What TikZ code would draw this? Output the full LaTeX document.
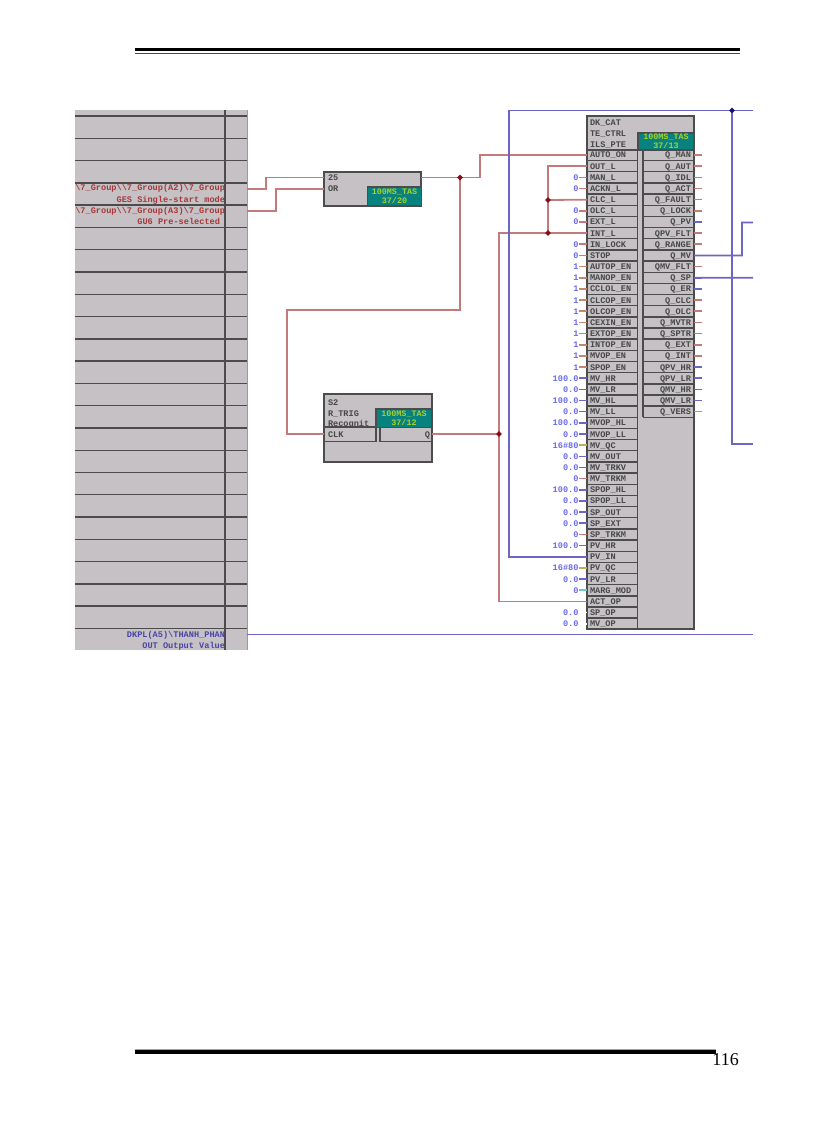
\documentclass[tikz,border=0pt]{standalone}
\usepackage{fontspec}
\usetikzlibrary{shapes.geometric}
\setmainfont{Liberation Serif}
\newfontfamily\fbdfont{Liberation Mono}
\definecolor{fbgray}{HTML}{C5C1C5}
\definecolor{fbdark}{HTML}{4C4C4C}
\definecolor{fbteal}{HTML}{07827F}
\definecolor{fbyel}{HTML}{A8D030}
\definecolor{wred}{HTML}{C47A7A}
\definecolor{wblue}{HTML}{6E66C4}
\definecolor{wgrey}{HTML}{9A9AA0}
\definecolor{wolive}{HTML}{B8B060}
\definecolor{wcyan}{HTML}{70C8C0}
\definecolor{wbrown}{HTML}{C08870}
\definecolor{txtgray}{HTML}{484848}
\definecolor{txtred}{HTML}{A83838}
\definecolor{txtblue}{HTML}{4A44A8}
\definecolor{valblue}{HTML}{6A6AF0}
\definecolor{jred}{HTML}{8A0A14}
\definecolor{jblue}{HTML}{16107A}
\tikzset{
  fbpanel/.style={fill=fbgray,draw=fbdark,line width=1.3pt,anchor=north west,inner sep=0pt,outer sep=0pt},
  tealbox/.style={fill=fbteal,draw=fbdark,line width=1.3pt,anchor=north west,inner sep=0pt,outer sep=0pt,text=fbyel,
    font=\fbdfont\bfseries\fontsize{8.4}{9.6}\selectfont,align=center},
  rowline/.style={draw=fbdark,line width=1.4pt},
  cellline/.style={draw=fbdark,line width=1.4pt},
  lbl/.style={inner sep=0pt,outer sep=0pt,text=txtgray,text height=6pt,text depth=0pt,font=\fbdfont\bfseries\fontsize{8.6}{9}\selectfont},
  lbll/.style={lbl,anchor=west},
  lblr/.style={lbl,anchor=east},
  vall/.style={lbl,anchor=east,text=valblue},
  tblred/.style={lbl,anchor=east,text=txtred},
  tblblue/.style={lbl,anchor=east,text=txtblue},
  redwire/.style={draw=wred,line width=1.8pt},
  bluewire/.style={draw=wblue,line width=1.8pt},
  stub/.style={line width=1.6pt},
  junc/.style={diamond,inner sep=0pt,minimum size=6pt,fill=jred},
  juncb/.style={diamond,inner sep=0pt,minimum size=6pt,fill=jblue},
}
\begin{document}
\begin{tikzpicture}[x=1pt,y=-1pt]
\useasboundingbox[fill=white] (0,0) rectangle (816,1123);

% page rules
\fill[black] (135,48) rectangle (740,51.5);
\draw[black!70,line width=0.8pt] (135,53) -- (740,53);
\draw[black!35,line width=0.8pt] (135,1049.3) -- (716,1049.3);
\fill[black] (135,1050.3) rectangle (716,1054);
\node[inner sep=0pt,anchor=base east,font=\fontsize{18}{18}\selectfont] (pageno) at (739,1065) {116};

% left table
\node[fbpanel,draw=none,minimum width=172pt,minimum height=540pt] (tbl) at (75,110) {};
\draw[draw=wgrey,line width=1pt] (247,110) -- (247,650);
\draw[rowline] (225,110) -- (225,650);
\foreach \k in {0,...,23} {
  \draw[rowline] (75,116+22.28*\k) -- (247,116+22.28*\k);
}
\node[tblred] (t1) at (225,188) {\textbackslash 7\_Group\textbackslash\textbackslash 7\_Group(A2)\textbackslash 7\_Group};
\node[tblred] (t2) at (225,199.5) {GES Single-start mode};
\node[tblred] (t3) at (225,210.5) {\textbackslash 7\_Group\textbackslash\textbackslash 7\_Group(A3)\textbackslash 7\_Group};
\node[tblred] (t4) at (220,222) {GU6 Pre-selected};
\node[tblblue] (t5) at (225,634.5) {DKPL(A5)\textbackslash THANH\_PHAN};
\node[tblblue] (t6) at (225,645.5) {OUT Output Value};
\coordinate (tOutA) at (247,189);
\coordinate (tOutB) at (247,211);
\coordinate (tOutC) at (247,634.5);

% block OR
\node[fbpanel,minimum width=97pt,minimum height=34pt] (orblk) at (324,172) {};
\node[tealbox,minimum width=54pt,minimum height=19pt] (orteal) at (367.5,187) {100MS\_TAS\\[-1pt]37/20};
\node[lbll] (or1) at (328,177.5) {25};
\node[lbll] (or2) at (328,189) {OR};
\coordinate (orIn1) at (324,177.5);
\coordinate (orIn2) at (324,189);
\coordinate (orOut) at (421,177.5);

% block R_TRIG
\node[fbpanel,minimum width=108pt,minimum height=68pt] (trblk) at (324,394) {};
\node[tealbox,minimum width=56pt,minimum height=18.5pt] (trteal) at (376,409) {100MS\_TAS\\[-1pt]37/12};
\draw[cellline] (324,427) -- (376,427);
\draw[cellline] (324,441.5) -- (376,441.5);
\draw[cellline] (380,441.5) -- (432,441.5);
\draw[cellline] (376,427) -- (376,441.5);
\draw[cellline] (380,427.5) -- (380,441.5);
\node[lbll] (tr1) at (328,402) {S2};
\node[lbll] (tr2) at (328,413) {R\_TRIG};
\node[lbll] (tr3) at (328,423) {Recognit};
\node[lbll] (tr4) at (328,434) {CLK};
\node[lblr] (tr5) at (430,434) {Q};
\coordinate (trIn) at (324,434);
\coordinate (trOut) at (432,434);

% large block
\node[fbpanel,minimum width=107pt,minimum height=513pt] (bigblk) at (587,116) {};
\node[tealbox,minimum width=56pt,minimum height=17pt] (bigteal) at (638,133) {100MS\_TAS\\[-1pt]37/13};
\draw[cellline] (587,150) -- (694,150);
\draw[cellline] (637.5,150) -- (637.5,629);
\draw[cellline] (643,150) -- (643,417);
\node[lbll] (hd1) at (590,123) {DK\_CAT};
\node[lbll] (hd2) at (590,134) {TE\_CTRL};
\node[lbll] (hd3) at (590,145) {ILS\_PTE};

% left pins: name / value / stub colour
\foreach \nm/\vl/\cl [count=\i from 0] in {
 AUTO\_ON//wred, OUT\_L//wred, MAN\_L/0/wred, ACKN\_L/0/wred, CLC\_L//wred, OLC\_L/0/wred, EXT\_L/0/wred, INT\_L//wred,
 IN\_LOCK/0/wred, STOP/0/wred, AUTOP\_EN/1/wbrown, MANOP\_EN/1/wbrown, CCLOL\_EN/1/wbrown, CLCOP\_EN/1/wbrown,
 OLCOP\_EN/1/wbrown, CEXIN\_EN/1/wbrown, EXTOP\_EN/1/wbrown, INTOP\_EN/1/wbrown, MVOP\_EN/1/wbrown, SPOP\_EN/1/wbrown,
 MV\_HR/100.0/wblue, MV\_LR/0.0/wblue, MV\_HL/100.0/wblue, MV\_LL/0.0/wblue, MVOP\_HL/100.0/wblue, MVOP\_LL/0.0/wblue,
 MV\_QC/16\#80/wolive, MV\_OUT/0.0/wblue, MV\_TRKV/0.0/wblue, MV\_TRKM/0/wred, SPOP\_HL/100.0/wblue, SPOP\_LL/0.0/wblue,
 SP\_OUT/0.0/wblue, SP\_EXT/0.0/wblue, SP\_TRKM/0/wred, PV\_HR/100.0/wblue, PV\_IN//wblue, PV\_QC/16\#80/wolive,
 PV\_LR/0.0/wblue, MARG\_MOD/0/wcyan, ACT\_OP//wred, SP\_OP/0.0/white, MV\_OP/0.0/white} {
  \coordinate (L\i) at (587,155+11.16*\i);
  \coordinate (LV\i) at (578.5,155+11.16*\i);
  \draw[stub,draw=\cl] (LV\i) -- (L\i);
  \node[lbll] (LN\i) at (590,155+11.16*\i) {\nm};
  \node[vall] (LW\i) at (578.5,155+11.16*\i) {\vl};
  \draw[cellline] (587,160.6+11.16*\i) -- (637.5,160.6+11.16*\i);
}

% right pins
\foreach \nm/\cl [count=\i from 0] in {
 Q\_MAN/wred, Q\_AUT/wred, Q\_IDL/wred, Q\_ACT/wred, Q\_FAULT/wred, Q\_LOCK/wred, Q\_PV/wblue, QPV\_FLT/wred,
 Q\_RANGE/wred, Q\_MV/wblue, QMV\_FLT/wred, Q\_SP/wblue, Q\_ER/wblue, Q\_CLC/wred, Q\_OLC/wred, Q\_MVTR/wred,
 Q\_SPTR/wred, Q\_EXT/wred, Q\_INT/wred, QPV\_HR/wblue, QPV\_LR/wblue, QMV\_HR/wblue, QMV\_LR/wblue, Q\_VERS/wgrey} {
  \coordinate (R\i) at (694,155+11.16*\i);
  \coordinate (RV\i) at (702,155+11.16*\i);
  \draw[stub,draw=\cl] (R\i) -- (RV\i);
  \node[lblr] (RN\i) at (691,155+11.16*\i) {\nm};
  \draw[cellline] (643,160.6+11.16*\i) -- (694,160.6+11.16*\i);
}

% free ends
\coordinate (eTop) at (753,110.5);
\coordinate (eLoop) at (509,110.5);
\coordinate (eA) at (753,222.5);
\coordinate (eB) at (753,277.8);
\coordinate (eC) at (753,444);
\coordinate (eD) at (753,634.5);

% junction positions
\coordinate (cj1) at (460,177.5);
\coordinate (cj2) at (499,434);
\coordinate (cj3) at (548,200);
\coordinate (cj4) at (548,233);
\coordinate (cj5) at (732,110.5);

% red wires
\draw[redwire] (tOutA) -- (266,189) |- (orIn1);
\draw[redwire] (tOutB) -- (276,211) |- (orIn2);
\draw[redwire] (orOut) -- (cj1);
\draw[redwire] (cj1) -- (480,177.5) |- (L0);
\draw[redwire] (cj1) |- (287,310) |- (trIn);
\draw[redwire] (trOut) -- (cj2);
\draw[redwire] (cj2) |- (L7);
\draw[redwire] (cj2) |- (L40);
\draw[redwire] (cj3) -- (L4);
\draw[redwire] (cj3) |- (L1);
\draw[redwire] (cj3) -- (cj4);

% blue wires
\draw[bluewire] (eLoop) -- (cj5);
\draw[bluewire] (cj5) -- (eTop);
\draw[bluewire] (eLoop) |- (L36);
\draw[bluewire] (cj5) |- (eC);
\draw[bluewire] (R9) -- (742,255.4) |- (eA);
\draw[bluewire] (R11) -- (eB);
\draw[bluewire] (tOutC) -- (eD);

% junction dots
\node[junc] (j1) at (cj1) {};
\node[junc] (j2) at (cj2) {};
\node[junc] (j3) at (cj3) {};
\node[junc] (j4) at (cj4) {};
\node[juncb] (j5) at (cj5) {};
\end{tikzpicture}
\end{document}
